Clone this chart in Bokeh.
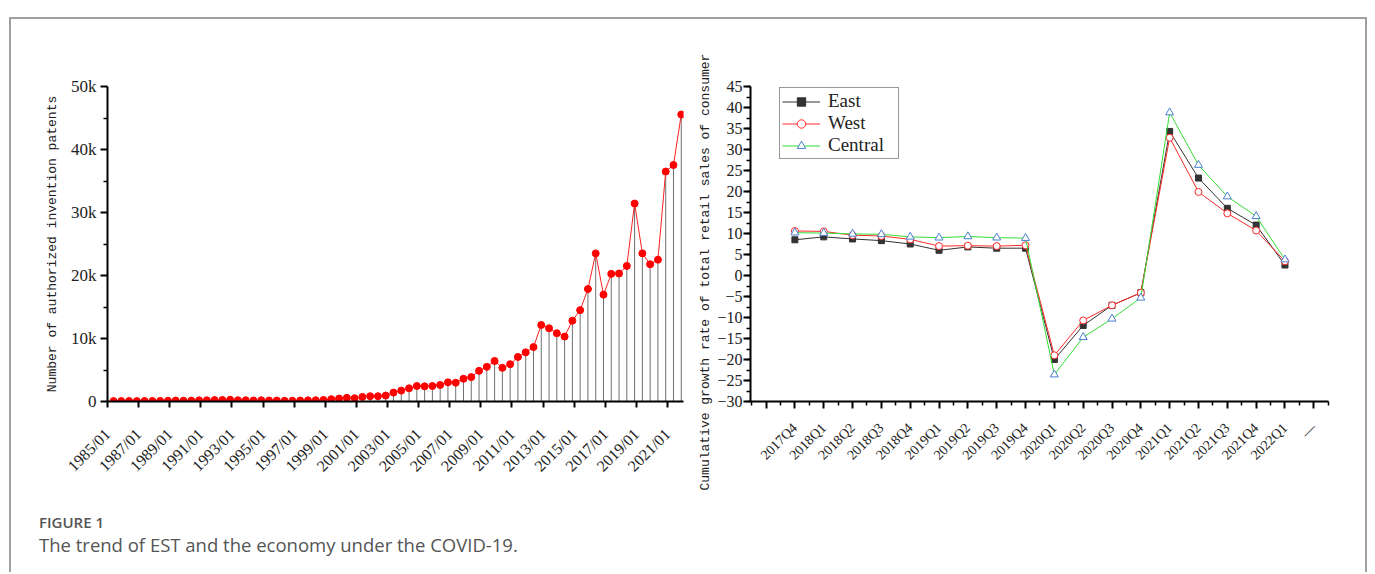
import math
from bokeh.plotting import figure
from bokeh.models import FixedTicker, Range1d, Legend, LegendItem, Div, Spacer, Title
from bokeh.layouts import row, column
from bokeh.embed import file_html
from bokeh.resources import INLINE

# ---------------- data: left panel (half-yearly invention patents) ----------------
first_obs_year = 1985.386          # time of the first half-year observation
half_year = 0.5
patents = [60, 70, 70, 60, 80, 80, 90, 120, 150, 130, 140, 180, 190, 230, 240, 280,
           200, 200, 160, 190, 160, 150, 110, 120, 150, 180, 200, 250, 370, 470, 580,
           520, 730, 840, 840, 940, 1410, 1730, 2090, 2460, 2410, 2460, 2620, 3040,
           2980, 3610, 3870, 4870, 5500, 6440, 5340, 5920, 7070, 7800, 8640, 12150,
           11620, 10840, 10310, 12830, 14500, 17850, 23510, 16960, 20260, 20320,
           21520, 31420, 23510, 21780, 22510, 36500, 37540, 45550]
obs_time = [first_obs_year + half_year * i for i in range(len(patents))]
left_tick_years = list(range(1985, 2022, 2))
left_tick_labels = [f"{y}/01" for y in left_tick_years]
left_y_ticks = [0, 10000, 20000, 30000, 40000, 50000]
left_y_labels = ["0", "10k", "20k", "30k", "40k", "50k"]
left_y_minor = [5000, 15000, 25000, 35000, 45000]

# ---------------- data: right panel (cumulative growth of retail sales) ----------------
quarters = ["2017Q4", "2018Q1", "2018Q2", "2018Q3", "2018Q4", "2019Q1", "2019Q2",
            "2019Q3", "2019Q4", "2020Q1", "2020Q2", "2020Q3", "2020Q4", "2021Q1",
            "2021Q2", "2021Q3", "2021Q4", "2022Q1"]
east = [8.5, 9.2, 8.7, 8.3, 7.5, 6.0, 6.8, 6.5, 6.5, -20.0, -11.9, -7.1, -4.1,
        34.3, 23.2, 16.0, 12.0, 2.5]
west = [10.6, 10.5, 9.6, 9.4, 8.6, 7.0, 7.1, 7.0, 7.2, -19.0, -10.7, -7.1, -4.1,
        32.8, 19.9, 14.8, 10.7, 3.4]
central = [10.2, 10.1, 9.9, 9.8, 9.2, 9.0, 9.3, 9.0, 8.9, -23.6, -14.7, -10.3, -5.3,
           38.8, 26.3, 18.8, 14.1, 3.8]
q_index = list(range(len(quarters)))
extra_label = "\u2014"
right_y_ticks = list(range(-30, 50, 5))
right_y_minor = [-30 + 2.5 * k for k in range(31)]

SERIF = "Liberation Serif"
MONO = "Liberation Mono"
BORDER = "#a0a0a0"


def style_axes(ax):
    ax.axis_line_width = 2
    ax.axis_line_color = "black"
    ax.major_tick_line_width = 2
    ax.minor_tick_line_width = 1.5
    ax.major_tick_in = 0
    ax.minor_tick_in = 0
    ax.major_label_text_font = SERIF
    ax.major_label_text_color = "#222"
    ax.axis_label_text_font = MONO
    ax.axis_label_text_font_style = "normal"
    ax.axis_label_text_font_size = "13px"
    ax.axis_label_text_color = "#222"


# ---------------- left figure ----------------
p1 = figure(width=679, height=481, x_range=Range1d(1985, 2022.03),
            y_range=Range1d(0, 50000), output_backend="svg", toolbar_location=None,
            min_border_left=96, min_border_right=7, min_border_top=66,
            min_border_bottom=97)
p1.outline_line_color = None
p1.grid.visible = False
p1.segment(x0=obs_time, y0=[0] * len(patents), x1=obs_time, y1=patents,
           line_color="#707070", line_width=1)
p1.line(obs_time, patents, line_color="#ff2020", line_width=1)
p1.scatter(obs_time, patents, size=7, fill_color="#ff0000", line_color="#ff0000")

xa = p1.xaxis[0]
style_axes(xa)
xa.ticker = FixedTicker(ticks=left_tick_years, minor_ticks=[])
xa.major_label_overrides = {y: l for y, l in zip(left_tick_years, left_tick_labels)}
xa.major_label_orientation = math.pi / 4
xa.major_label_text_font_size = "16px"
xa.major_tick_out = 6
xa.minor_tick_line_color = None
xa.major_label_standoff = 24

ya = p1.yaxis[0]
style_axes(ya)
ya.ticker = FixedTicker(ticks=left_y_ticks, minor_ticks=left_y_minor)
ya.major_label_overrides = {v: l for v, l in zip(left_y_ticks, left_y_labels)}
ya.major_label_text_font_size = "17px"
ya.major_tick_out = 7
ya.minor_tick_out = 4
ya.major_label_standoff = 4
ya.axis_label = "Number of authorized invention patents"
ya.axis_label_standoff = 8

# ---------------- right figure ----------------
p2 = figure(width=675, height=481, x_range=Range1d(-1.54, 18.51),
            y_range=Range1d(-30, 45), output_backend="svg", toolbar_location=None,
            min_border_left=60, min_border_right=37, min_border_top=67,
            min_border_bottom=99)
p2.outline_line_color = None
p2.grid.visible = False

l_e = p2.line(q_index, east, line_color="#333333", line_width=1)
m_e = p2.scatter(q_index, east, marker="square", size=6, fill_color="#333333",
                 line_color="#333333")
l_w = p2.line(q_index, west, line_color="#ff2a2a", line_width=1)
m_w = p2.scatter(q_index, west, marker="circle", size=7, fill_color="white",
                 line_color="#ff2a2a", line_width=1)
l_c = p2.line(q_index, central, line_color="#33dd33", line_width=1)
m_c = p2.scatter(q_index, central, marker="triangle", size=8, fill_color="white",
                 line_color="#4a7fd0", line_width=1)

xb = p2.xaxis[0]
style_axes(xb)
tick_pos = [-1] + q_index + [len(quarters)]
xb.ticker = FixedTicker(ticks=tick_pos,
                        minor_ticks=[-1.5 + k for k in range(len(tick_pos) + 1)])
labels = {-1: ""}
labels.update({i: q for i, q in zip(q_index, quarters)})
labels[len(quarters)] = extra_label
xb.major_label_overrides = labels
xb.major_label_orientation = math.pi / 4
xb.major_label_text_font_size = "14px"
xb.major_tick_out = 7
xb.minor_tick_out = 4
xb.major_label_standoff = 17

yb = p2.yaxis[0]
style_axes(yb)
yb.ticker = FixedTicker(ticks=right_y_ticks, minor_ticks=right_y_minor)
yb.major_label_overrides = {v: (f"\u2212{abs(v)}" if v < 0 else str(v)) for v in right_y_ticks}
yb.major_label_text_font_size = "16px"
yb.major_tick_out = 7
yb.minor_tick_out = 4
yb.major_label_standoff = 1

ytitle = Title(text="Cumulative growth rate of total retail sales of consumer",
               align="left", offset=-89, standoff=4, text_font=MONO,
               text_font_size="13px", text_font_style="normal", text_color="#222")
p2.add_layout(ytitle, "left")

legend = Legend(items=[LegendItem(label="East", renderers=[l_e, m_e]),
                       LegendItem(label="West", renderers=[l_w, m_w]),
                       LegendItem(label="Central", renderers=[l_c, m_c])],
                location=(29, 242), orientation="vertical")
legend.border_line_color = "#333"
legend.border_line_width = 1
legend.background_fill_color = "white"
legend.background_fill_alpha = 1
legend.padding = 2
legend.spacing = 0
legend.margin = 0
legend.glyph_width = 38
legend.glyph_height = 21
legend.label_height = 21
legend.label_width = 68
legend.label_standoff = 8
legend.label_text_font = SERIF
legend.label_text_font_size = "19px"
legend.label_text_color = "#222"
p2.add_layout(legend)

caption = Div(
    text=('<div style="margin-left:28px;margin-top:13px;font-family:\'Open Sans\';'
          'font-weight:600;font-size:15px;color:#555;line-height:18px;">FIGURE 1</div>'
          '<div style="margin-left:28px;margin-top:3px;font-family:\'Open Sans\';'
          'font-size:18.5px;color:#555;line-height:22px;">'
          'The trend of EST and the economy under the COVID-19.</div>'),
    width=1354, height=72, margin=0)


def bar(w, h):
    return Div(text="", width=w, height=h, margin=0,
               styles={"background-color": BORDER})


inner_h = 481 + 72
page = column(
    Spacer(width=1367, height=17),
    row(Spacer(width=9, height=2), bar(1358, 2)),
    row(Spacer(width=9, height=inner_h), bar(2, inner_h),
        column(row(p1, p2), caption),
        bar(2, inner_h)),
)

open("out.html", "w").write(file_html(page, INLINE))
